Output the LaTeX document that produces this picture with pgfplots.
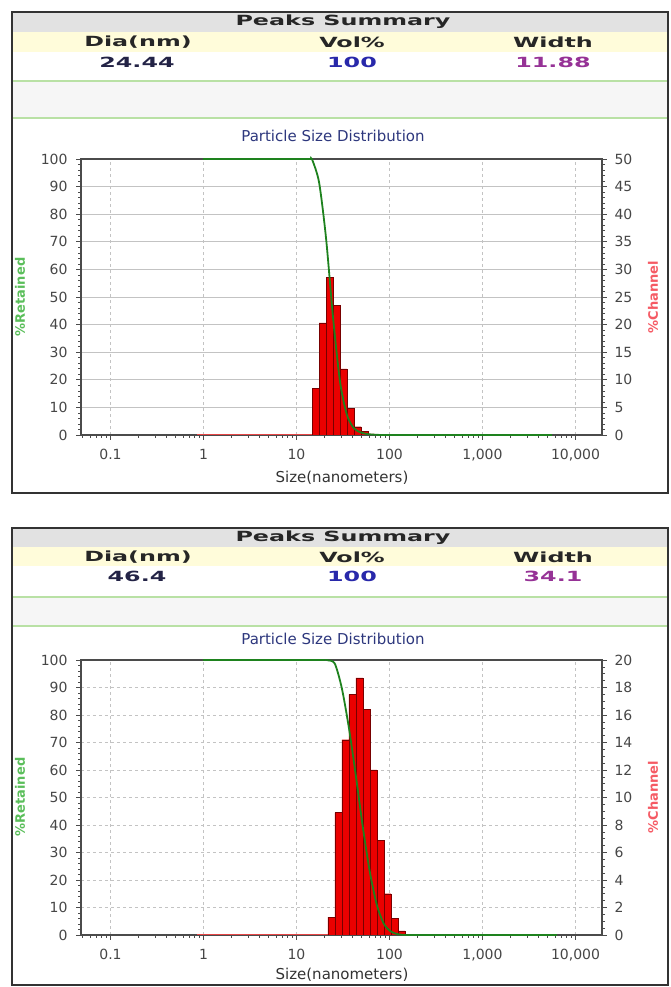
\documentclass[border=0pt]{standalone}
\usepackage{pgfplots}
\pgfplotsset{compat=1.18}
\usepackage{fontspec}
\setmainfont{DejaVu Sans}
\newfontfamily\hdrfont[FakeStretch=1.7]{DejaVu Sans}
\definecolor{gline}{RGB}{30,130,30}
\definecolor{barred}{RGB}{235,0,0}
\definecolor{baredge}{RGB}{120,0,0}
\definecolor{baseline}{RGB}{230,70,70}
\definecolor{tickgray}{RGB}{70,70,70}
\definecolor{gridgray}{RGB}{195,195,195}
\definecolor{axgray}{RGB}{75,75,75}
\definecolor{retgreen}{RGB}{90,190,90}
\definecolor{chanred}{RGB}{245,90,100}
\definecolor{titleblue}{RGB}{45,55,125}
\definecolor{hdrgray}{RGB}{226,226,226}
\definecolor{hdryellow}{RGB}{255,252,218}
\definecolor{bandgray}{RGB}{246,246,246}
\definecolor{sepgreen}{RGB}{185,225,165}
\definecolor{valnavy}{RGB}{35,35,70}
\definecolor{valblue}{RGB}{40,40,170}
\definecolor{valpurple}{RGB}{150,50,150}
\begin{document}
\begin{tikzpicture}[x=1pt,y=1pt]
\useasboundingbox (0,0) rectangle (671,987);
% ================= TOP PANEL =================
\fill[hdrgray] (13,975) rectangle (667,955);
\fill[hdryellow] (13,955) rectangle (667,935);
\fill[bandgray] (13,906) rectangle (667,869);
\draw[sepgreen, line width=1.2pt] (13,906) -- (667,906);
\draw[sepgreen, line width=1.2pt] (13,869) -- (667,869);
\node[font=\hdrfont\bfseries\fontsize{14}{14}\selectfont, text=black!85] at (343,965) {Peaks Summary};
\node[font=\hdrfont\bfseries\fontsize{14}{14}\selectfont, text=black!85] at (138,945) {Dia(nm)};
\node[font=\hdrfont\bfseries\fontsize{14}{14}\selectfont, text=black!85] at (352,945) {Vol\%};
\node[font=\hdrfont\bfseries\fontsize{14}{14}\selectfont, text=black!85] at (553,945) {Width};
\node[font=\hdrfont\bfseries\fontsize{14}{14}\selectfont, text=valnavy] at (137,925) {24.44};
\node[font=\hdrfont\bfseries\fontsize{14}{14}\selectfont, text=valblue] at (352,925) {100};
\node[font=\hdrfont\bfseries\fontsize{14}{14}\selectfont, text=valpurple] at (553,925) {11.88};
\node[font=\fontsize{15}{15}\selectfont, text=titleblue] at (333,851) {Particle Size Distribution};

\begin{axis}[scale only axis, width=521pt, height=276pt, at={(81pt,552pt)}, anchor=south west,
  xmode=log, xmin=0.0482, xmax=19270, ymin=0, ymax=100,
  ytick={0,10,...,100}, minor y tick num=4,
  xtick={0.1,1,10,100,1000,10000},
  xticklabels={0.1,1,10,100,{1,000},{10,000}},
  minor xtick={0.05,0.06,0.07,0.08,0.09,0.2,0.3,0.4,0.5,0.6,0.7,0.8,0.9,2,3,4,5,6,7,8,9,20,30,40,50,60,70,80,90,200,300,400,500,600,700,800,900,2000,3000,4000,5000,6000,7000,8000,9000},
  xtick pos=bottom, ytick pos=left,
  /pgf/number format/assume math mode=true,
  tick align=outside, major tick length=5pt, minor tick length=3pt,
  tick style={axgray, line width=0.6pt},
  tick label style={font=\fontsize{14}{14}\selectfont, text=tickgray},
  xticklabel style={yshift=-6pt},
  yticklabel style={xshift=-5pt},
  xmajorgrids, ymajorgrids,
  x grid style={gridgray, dashed, line width=0.6pt},
  y grid style={gridgray, line width=0.6pt},
  axis line style={axgray, line width=1.6pt}]
\end{axis}
\begin{axis}[scale only axis, width=521pt, height=276pt, at={(81pt,552pt)}, anchor=south west,
  xmode=log, xmin=0.0482, xmax=19270, ymin=0, ymax=50,
  axis x line=none, axis y line*=right,
  ytick={0,5,...,50}, minor y tick num=4,
  /pgf/number format/assume math mode=true,
  tick align=outside, major tick length=5pt, minor tick length=3pt,
  tick style={axgray, line width=0.6pt},
  tick label style={font=\fontsize{14}{14}\selectfont, text=tickgray},
  yticklabel style={xshift=4pt},
  axis line style={axgray, line width=1.6pt}]
\addplot[draw=baseline, line width=1.5pt] coordinates {(0.85,0) (14.7,0)};
\addplot[ybar interval, fill=barred, draw=baredge, line width=0.4pt] coordinates {
(14.7,8.5) (17.5,20.3) (20.8,28.5) (24.7,23.5) (29.4,12.0) (34.9,4.8) (41.5,1.5) (49.4,0.6) (58.7,0.2) (69.8,0)};
\end{axis}
\begin{axis}[scale only axis, width=521pt, height=276pt, at={(81pt,552pt)}, anchor=south west,
  xmode=log, xmin=0.0482, xmax=19270, ymin=0, ymax=100, hide axis, clip=false]
\addplot[gline, line width=1.8pt] coordinates {(1,100) (14.2,100)};
\addplot[gline, line width=1.8pt, smooth, tension=0.45] coordinates {
(14.2,100) (14.7,99.9) (17.5,91.5) (20.8,71.2) (24.7,42.7) (29.4,19.2) (34.9,7.2) (41.5,2.4) (49.4,0.9) (58.7,0.3) (69.8,0.1) (80,0)};
\addplot[gline, line width=1.8pt] coordinates {(80,0) (5600,0)};
\end{axis}
\node[font=\fontsize{15}{15}\selectfont, text=black!80] at (342,509) {Size(nanometers)};
\node[font=\bfseries\fontsize{13}{13}\selectfont, text=retgreen, rotate=90] at (20,690) {\%Retained};
\node[font=\bfseries\fontsize{13}{13}\selectfont, text=chanred, rotate=90] at (653,690) {\%Channel};
\draw[black!80, line width=1.6pt] (12,975) rectangle (668,494);

% ================= BOTTOM PANEL =================
\fill[hdrgray] (13,458) rectangle (667,440);
\fill[hdryellow] (13,440) rectangle (667,421);
\fill[bandgray] (13,390) rectangle (667,361);
\draw[sepgreen, line width=1.2pt] (13,390) -- (667,390);
\draw[sepgreen, line width=1.2pt] (13,361) -- (667,361);
\node[font=\hdrfont\bfseries\fontsize{14}{14}\selectfont, text=black!85] at (343,449) {Peaks Summary};
\node[font=\hdrfont\bfseries\fontsize{14}{14}\selectfont, text=black!85] at (138,430) {Dia(nm)};
\node[font=\hdrfont\bfseries\fontsize{14}{14}\selectfont, text=black!85] at (352,430) {Vol\%};
\node[font=\hdrfont\bfseries\fontsize{14}{14}\selectfont, text=black!85] at (553,430) {Width};
\node[font=\hdrfont\bfseries\fontsize{14}{14}\selectfont, text=valnavy] at (137,411) {46.4};
\node[font=\hdrfont\bfseries\fontsize{14}{14}\selectfont, text=valblue] at (352,411) {100};
\node[font=\hdrfont\bfseries\fontsize{14}{14}\selectfont, text=valpurple] at (553,411) {34.1};
\node[font=\fontsize{15}{15}\selectfont, text=titleblue] at (333,348) {Particle Size Distribution};

\begin{axis}[scale only axis, width=521pt, height=275pt, at={(81pt,52pt)}, anchor=south west,
  xmode=log, xmin=0.0482, xmax=19270, ymin=0, ymax=100,
  ytick={0,10,...,100}, minor y tick num=4,
  xtick={0.1,1,10,100,1000,10000},
  xticklabels={0.1,1,10,100,{1,000},{10,000}},
  minor xtick={0.05,0.06,0.07,0.08,0.09,0.2,0.3,0.4,0.5,0.6,0.7,0.8,0.9,2,3,4,5,6,7,8,9,20,30,40,50,60,70,80,90,200,300,400,500,600,700,800,900,2000,3000,4000,5000,6000,7000,8000,9000},
  xtick pos=bottom, ytick pos=left,
  /pgf/number format/assume math mode=true,
  tick align=outside, major tick length=5pt, minor tick length=3pt,
  tick style={axgray, line width=0.6pt},
  tick label style={font=\fontsize{14}{14}\selectfont, text=tickgray},
  xticklabel style={yshift=-6pt},
  yticklabel style={xshift=-5pt},
  xmajorgrids, ymajorgrids,
  x grid style={gridgray, dashed, line width=0.6pt},
  y grid style={gridgray, dashed, line width=0.6pt},
  axis line style={axgray, line width=1.6pt}]
\end{axis}
\begin{axis}[scale only axis, width=521pt, height=275pt, at={(81pt,52pt)}, anchor=south west,
  xmode=log, xmin=0.0482, xmax=19270, ymin=0, ymax=20,
  axis x line=none, axis y line*=right,
  ytick={0,2,...,20}, minor y tick num=3,
  /pgf/number format/assume math mode=true,
  tick align=outside, major tick length=5pt, minor tick length=3pt,
  tick style={axgray, line width=0.6pt},
  tick label style={font=\fontsize{14}{14}\selectfont, text=tickgray},
  yticklabel style={xshift=4pt},
  axis line style={axgray, line width=1.6pt}]
\addplot[draw=baseline, line width=1.5pt] coordinates {(0.85,0) (21.7,0)};
\addplot[ybar interval, fill=barred, draw=baredge, line width=0.4pt] coordinates {
(21.7,1.3) (25.8,8.9) (30.7,14.2) (36.5,17.5) (43.4,18.7) (51.6,16.4) (61.4,12.0) (73.0,6.9) (86.8,3.0) (103.2,1.2) (122.7,0.3) (145.9,0)};
\end{axis}
\begin{axis}[scale only axis, width=521pt, height=275pt, at={(81pt,52pt)}, anchor=south west,
  xmode=log, xmin=0.0482, xmax=19270, ymin=0, ymax=100, hide axis, clip=false]
\addplot[gline, line width=1.8pt] coordinates {(1,100) (20.5,100)};
\addplot[gline, line width=1.8pt, smooth, tension=0.45] coordinates {
(20.5,100) (21.7,99.9) (25.8,98.7) (30.7,89.8) (36.5,75.6) (43.4,58.1) (51.6,39.4) (61.4,23.0) (73.0,11.0) (86.8,4.1) (103.2,1.3) (122.7,0.3) (145.9,0)};
\addplot[gline, line width=1.8pt] coordinates {(145.9,0) (6300,0)};
\end{axis}
\node[font=\fontsize{15}{15}\selectfont, text=black!80] at (342,12) {Size(nanometers)};
\node[font=\bfseries\fontsize{13}{13}\selectfont, text=retgreen, rotate=90] at (20,190) {\%Retained};
\node[font=\bfseries\fontsize{13}{13}\selectfont, text=chanred, rotate=90] at (653,190) {\%Channel};
\draw[black!80, line width=1.6pt] (12,459) rectangle (668,2);
\end{tikzpicture}
\end{document}
